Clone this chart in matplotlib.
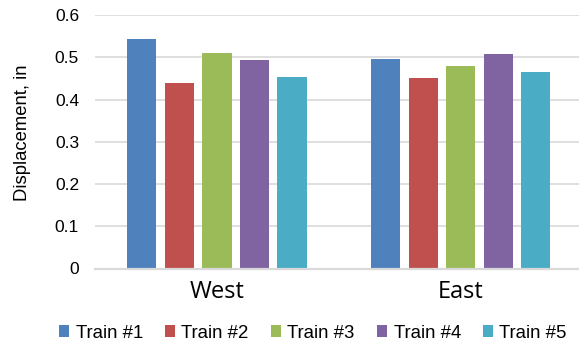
import numpy as np
import matplotlib
matplotlib.use("Agg")
import matplotlib.pyplot as plt
from matplotlib.patches import Patch

directions = ["West", "East"]
trains = ["Train #1", "Train #2", "Train #3", "Train #4", "Train #5"]
# displacement per train, one list per direction (in)
west = [0.544, 0.438, 0.509, 0.493, 0.454]
east = [0.495, 0.451, 0.479, 0.507, 0.465]
colors = ["#4F81BD", "#C0504D", "#9BBB59", "#8064A2", "#4BACC6"]

values = np.array([west, east])

fig = plt.figure(figsize=(5.79, 3.45), dpi=100)
ax = fig.add_axes([95 / 579, 1 - 268.5 / 345, 1 - 95 / 579, (268.5 - 15) / 345])

x = np.arange(len(directions))
step = 0.154
width = 0.12
for i, name in enumerate(trains):
    ax.bar(x + (i - 2) * step, values[:, i], width=width, color=colors[i],
           label=name, zorder=3)

ax.set_xlim(-0.5, 1.485)
ax.set_ylim(0, 0.6)
ax.set_yticks([0, 0.1, 0.2, 0.3, 0.4, 0.5, 0.6])
ax.set_yticklabels(["0", "0.1", "0.2", "0.3", "0.4", "0.5", "0.6"])
ax.set_xticks(x)
ax.set_xticklabels(directions, family="Open Sans", fontsize=17)
ax.tick_params(axis="x", length=0, pad=8.5)
ax.tick_params(axis="y", length=0, pad=11.5, labelsize=12.5)
for lbl in ax.get_yticklabels():
    lbl.set_family("Liberation Sans")

ax.grid(axis="y", color="#d9d9d9", lw=1.2, zorder=0)
for side in ["top", "right", "left"]:
    ax.spines[side].set_visible(False)
ax.spines["bottom"].set_color("#d9d9d9")
ax.spines["bottom"].set_linewidth(1.6)
ax.spines["bottom"].set_zorder(4)

fig.text(22.5 / 579, 1 - 133 / 345, "Displacement, in", rotation=90,
         ha="center", va="center", fontsize=13.3, family="Liberation Sans")

handles = [Patch(facecolor=c, edgecolor="none") for c in colors]
fig.legend(handles, trains, loc="center", ncol=5,
           bbox_to_anchor=(313 / 579, 1 - 333 / 345),
           frameon=False, handlelength=0.55, handleheight=0.55,
           handletextpad=0.33, columnspacing=1.2, borderpad=0,
           prop={"family": "Liberation Sans", "size": 13.4})

fig.savefig("out.png", dpi=100)
